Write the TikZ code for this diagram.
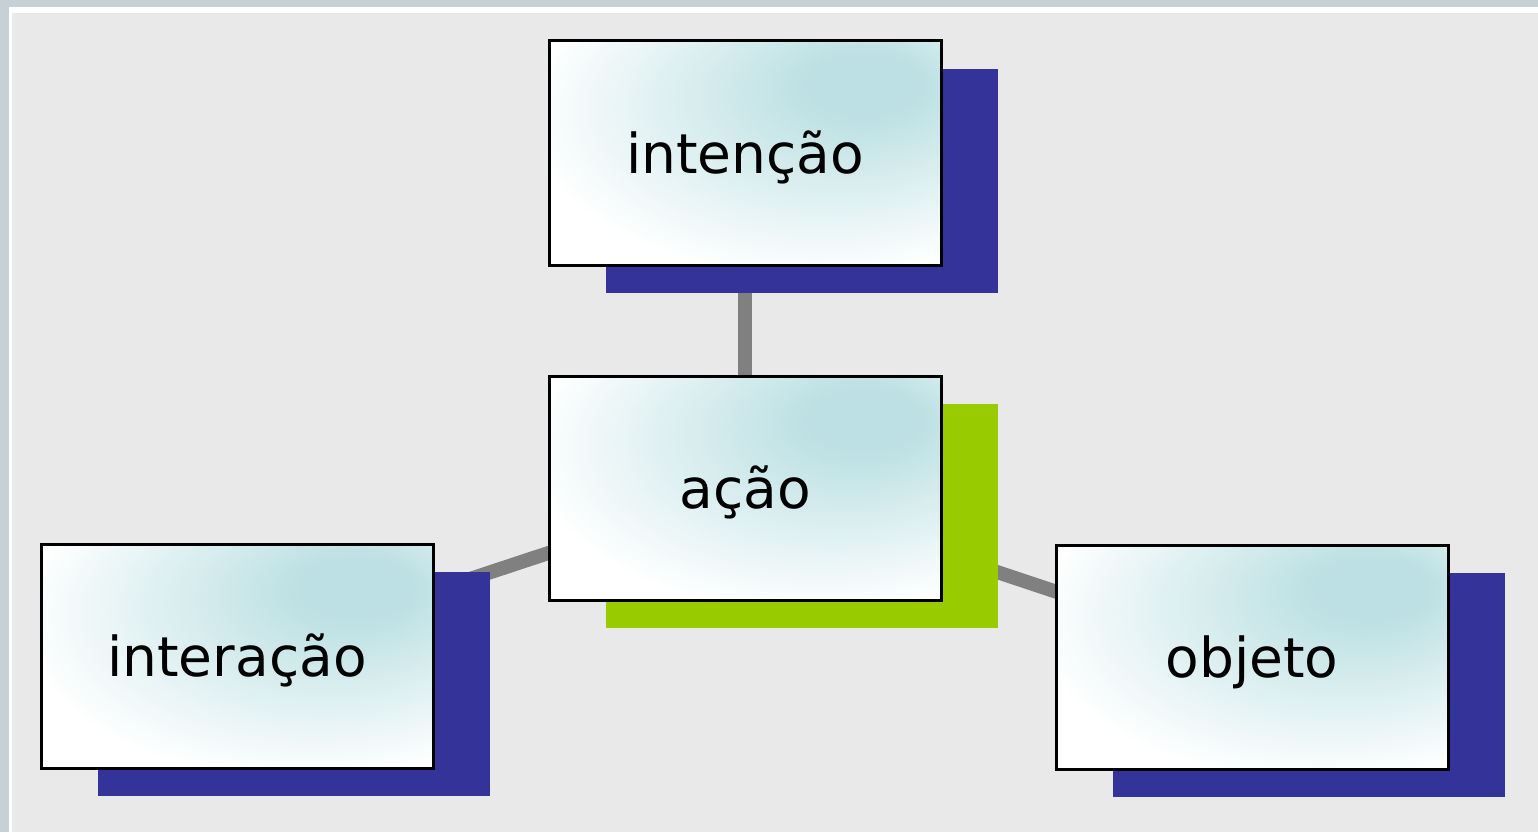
\documentclass[tikz,border=0pt]{standalone}
\usepackage{fontspec}
\setmainfont{DejaVu Sans}
\usetikzlibrary{shadows,backgrounds}
\definecolor{moldura}{HTML}{C5D0D7}
\definecolor{fundo}{HTML}{E9E9E9}
\definecolor{azulsombra}{HTML}{333399}
\definecolor{verdesombra}{HTML}{99CC00}
\definecolor{linha}{HTML}{808080}
\definecolor{tealbrilho}{HTML}{BCE0E3}
\pgfdeclareradialshading{brilho}{\pgfpoint{17bp}{17bp}}{color(0bp)=(tealbrilho); color(7bp)=(tealbrilho); color(36bp)=(white); color(70bp)=(white)}

\begin{document}
\begin{tikzpicture}[x=1pt,y=-1pt,
  conceito/.style={draw=black, line width=3pt, shading=brilho,
    minimum width=392pt, minimum height=224pt, text height=40pt, text depth=0pt,
    font=\fontsize{55}{66}\selectfont,
    general shadow={fill=#1, shadow xshift=57pt, shadow yshift=-28pt}},
  conceito/.default=azulsombra,
  ligacao/.style={draw=linha, line width=14pt}]
\useasboundingbox (0,0) rectangle (1538,832);

\node[conceito=verdesombra] (acao) at (745,488) {ação};
\node[conceito] (intencao) at (745,153) {intenção};
\node[conceito] (interacao) at (237,656) {interação};
\node[conceito] (objeto) at (1252,657) {objeto};

\begin{scope}[on background layer]
\fill[moldura] (0,0) rectangle (1538,832);
\fill[white] (9,7) rectangle (1538,832);
\fill[fundo] (12,13) rectangle (1538,832);
\draw[ligacao] (acao.center) -- (intencao.center);
\draw[ligacao] (acao.center) -- (interacao.center);
\draw[ligacao] (acao.center) -- (objeto.center);
\end{scope}
\end{tikzpicture}
\end{document}
